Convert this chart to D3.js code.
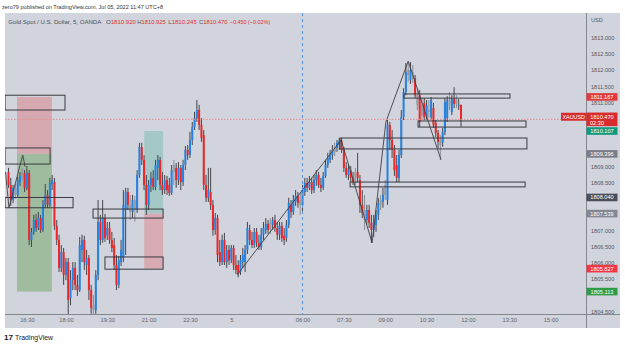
<!DOCTYPE html>
<html><head><meta charset="utf-8">
<script src="https://cdn.jsdelivr.net/npm/d3@7"></script>
<style>body{margin:0;background:#fff;}svg{display:block;font-family:"Liberation Sans",Arial,sans-serif;}</style>
</head><body><svg id="c" width="625" height="346"></svg>
<script>
// ---- data (5-min bars, index 0..197) ----
const opens = [
1808.83,1808.43,1807.96,1808.34,1808.12,1808.52,1808.65,1808.80,1808.34,1808.80,
1806.72,1806.97,1807.34,1807.09,1807.40,1807.03,1807.81,1808.12,1807.81,1808.46,
1808.52,1807.16,1806.72,1805.85,1806.34,1805.63,1806.03,1804.91,1805.47,1805.85,
1805.32,1805.16,1806.41,1806.72,1805.94,1806.16,1805.16,1804.69,1804.54,1805.63,
1807.28,1806.72,1807.40,1806.85,1807.09,1806.72,1806.56,1805.94,1805.32,1806.03,
1806.16,1807.65,1808.21,1807.81,1807.59,1807.96,1807.65,1808.74,1809.61,1809.21,
1808.43,1807.81,1808.43,1808.65,1808.37,1808.96,1809.21,1808.43,1808.27,1808.58,
1808.43,1808.18,1808.83,1808.96,1808.58,1808.96,1808.52,1809.05,1809.52,1809.36,
1809.83,1810.23,1810.51,1810.76,1810.30,1809.98,1808.43,1808.03,1808.21,1807.81,
1807.03,1807.40,1806.34,1806.03,1806.72,1806.03,1806.41,1806.09,1806.47,1805.94,
1805.94,1805.72,1806.03,1806.03,1806.41,1807.03,1806.72,1806.56,1806.97,1806.63,
1806.50,1806.88,1807.03,1807.22,1807.03,1807.19,1807.34,1807.09,1806.88,1807.16,
1806.85,1806.78,1807.19,1807.81,1807.59,1807.90,1808.09,1807.96,1807.81,1808.21,
1808.49,1808.34,1808.52,1808.27,1808.58,1808.74,1808.43,1808.34,1808.71,1809.05,
1809.21,1809.36,1809.46,1809.58,1809.67,1809.80,1809.52,1808.96,1808.74,1808.89,
1808.65,1808.52,1808.83,1808.58,1807.81,1807.65,1807.34,1807.65,1807.25,1807.03,
1807.19,1807.50,1807.81,1807.90,1808.12,1807.96,1810.30,1809.83,1809.52,1809.05,
1808.65,1809.36,1810.54,1811.32,1811.85,1811.69,1811.94,1811.75,1811.22,1811.22,
1810.60,1810.98,1810.54,1810.76,1810.54,1810.82,1810.36,1810.05,1809.83,1809.74,
1810.08,1810.51,1810.92,1810.70,1811.10,1810.95,1810.88,1810.92];
const highs = [
1808.96,1808.65,1808.43,1808.46,1808.68,1808.83,1808.96,1808.89,1809.02,1808.89,
1807.09,1807.50,1807.53,1807.59,1807.50,1807.96,1808.46,1808.27,1808.65,1808.74,
1808.65,1807.34,1806.88,1806.56,1806.47,1806.16,1806.16,1805.78,1806.03,1806.03,
1805.63,1806.81,1806.88,1806.85,1806.41,1806.25,1805.32,1805.01,1805.78,1807.96,
1807.50,1807.96,1807.53,1807.28,1807.28,1806.97,1806.78,1806.25,1806.22,1806.72,
1808.27,1808.34,1808.34,1808.12,1808.12,1808.09,1808.89,1809.74,1809.74,1809.36,
1808.74,1808.58,1808.83,1808.89,1809.21,1809.36,1809.30,1808.83,1808.74,1808.71,
1808.65,1809.05,1809.21,1809.11,1809.14,1809.05,1809.21,1809.64,1809.67,1810.08,
1810.39,1810.70,1811.07,1810.92,1810.51,1810.14,1808.74,1808.96,1808.96,1807.96,
1807.56,1807.50,1806.72,1806.88,1806.94,1806.56,1806.56,1806.56,1806.56,1806.25,
1806.09,1806.25,1806.47,1806.56,1807.28,1807.19,1806.97,1807.09,1807.09,1806.88,
1807.09,1807.28,1807.40,1807.34,1807.40,1807.43,1807.50,1807.28,1807.28,1807.28,
1807.09,1807.34,1808.03,1807.96,1808.12,1808.27,1808.21,1808.18,1808.43,1808.65,
1808.65,1808.71,1808.65,1808.74,1808.89,1808.83,1808.65,1808.83,1809.21,1809.43,
1809.52,1809.67,1809.74,1809.83,1809.89,1809.89,1809.61,1809.14,1809.05,1809.02,
1808.83,1808.96,1809.43,1808.74,1808.27,1808.12,1807.81,1807.81,1807.50,1807.50,
1807.65,1808.03,1808.12,1808.34,1808.58,1810.45,1810.39,1810.14,1809.67,1809.36,
1809.52,1810.76,1811.44,1812.22,1812.25,1812.25,1812.16,1811.85,1811.44,1811.38,
1811.13,1811.13,1811.07,1811.07,1811.16,1810.98,1810.45,1810.14,1809.98,1810.20,
1811.13,1811.19,1811.32,1811.22,1811.47,1811.22,1811.10,1810.925];
const lows = [
1808.34,1807.78,1807.87,1808.00,1808.06,1808.40,1808.58,1808.21,1808.27,1806.56,
1806.50,1806.88,1806.97,1807.03,1806.94,1806.97,1807.72,1807.72,1807.75,1808.27,
1807.03,1806.56,1805.72,1805.72,1805.32,1805.47,1804.42,1804.69,1805.16,1805.16,
1804.98,1805.10,1806.03,1805.78,1805.63,1804.85,1804.42,1804.38,1804.42,1805.47,
1806.56,1806.63,1806.66,1806.72,1806.60,1806.34,1805.78,1805.16,1805.22,1805.91,
1806.03,1806.25,1807.65,1807.34,1807.40,1807.28,1807.56,1808.65,1809.05,1808.27,
1807.50,1807.65,1808.21,1808.27,1808.27,1808.58,1808.27,1808.12,1808.15,1808.12,
1808.09,1808.12,1808.43,1808.34,1808.43,1808.27,1808.40,1808.89,1809.21,1809.27,
1809.67,1810.14,1810.39,1810.14,1809.77,1808.27,1807.90,1807.90,1807.65,1806.85,
1806.88,1806.03,1805.91,1805.94,1805.94,1805.85,1805.94,1806.00,1805.78,1805.66,
1805.56,1805.63,1805.85,1805.72,1806.28,1806.56,1806.47,1806.47,1806.50,1806.41,
1806.41,1806.72,1806.91,1806.91,1806.91,1807.03,1806.97,1806.72,1806.72,1806.66,
1806.56,1806.66,1807.09,1807.40,1807.50,1807.78,1807.72,1807.50,1807.59,1808.09,
1808.21,1808.27,1808.15,1808.18,1808.40,1808.34,1808.21,1808.27,1808.65,1808.96,
1809.11,1809.21,1809.33,1809.46,1809.52,1809.43,1808.83,1808.65,1808.58,1808.52,
1808.43,1808.43,1808.52,1807.56,1807.40,1807.03,1807.19,1807.09,1806.63,1806.81,
1806.97,1807.34,1807.65,1807.72,1807.96,1807.81,1809.52,1809.27,1808.71,1808.52,
1808.52,1809.27,1810.45,1811.22,1811.63,1811.57,1811.60,1811.13,1810.76,1810.23,
1810.45,1810.45,1810.45,1810.51,1810.45,1810.20,1809.92,1809.58,1809.21,1809.61,
1809.98,1810.39,1810.76,1810.60,1810.82,1810.82,1810.76,1810.245];
const closes = [
1808.43,1807.96,1808.34,1808.12,1808.58,1808.71,1808.83,1808.34,1808.80,1806.72,
1806.97,1807.34,1807.09,1807.40,1807.03,1807.81,1808.12,1807.81,1808.49,1808.58,
1807.16,1806.72,1805.85,1806.34,1805.63,1806.03,1804.85,1805.47,1805.85,1805.32,
1805.16,1806.56,1806.72,1806.03,1806.16,1805.16,1804.60,1804.54,1805.63,1807.28,
1806.72,1807.40,1806.78,1807.09,1806.72,1806.47,1805.94,1805.32,1806.09,1806.41,
1807.81,1808.21,1807.81,1807.59,1807.96,1807.65,1808.74,1809.61,1809.21,1808.43,
1807.81,1808.43,1808.65,1808.37,1809.05,1809.21,1808.43,1808.27,1808.58,1808.27,
1808.18,1808.89,1809.05,1808.58,1808.96,1808.52,1809.05,1809.52,1809.36,1809.83,
1810.23,1810.51,1810.76,1810.30,1809.89,1808.43,1808.03,1808.27,1807.81,1807.03,
1807.40,1806.25,1806.03,1806.72,1806.03,1806.41,1806.09,1806.47,1805.94,1805.78,
1805.66,1806.09,1806.25,1806.41,1807.09,1806.72,1806.56,1806.97,1806.63,1806.50,
1806.88,1807.09,1807.22,1807.03,1807.28,1807.34,1807.09,1806.88,1807.16,1806.78,
1806.72,1807.19,1807.87,1807.59,1807.96,1808.09,1807.87,1807.81,1808.27,1808.49,
1808.34,1808.52,1808.27,1808.58,1808.74,1808.43,1808.34,1808.71,1809.05,1809.27,
1809.36,1809.52,1809.61,1809.74,1809.80,1809.52,1808.96,1808.74,1808.89,1808.65,
1808.52,1808.83,1808.65,1807.81,1807.56,1807.34,1807.65,1807.25,1807.03,1807.28,
1807.50,1807.87,1807.96,1808.12,1808.43,1810.30,1809.83,1809.52,1808.89,1808.65,
1809.36,1810.54,1811.32,1811.94,1812.00,1812.00,1811.75,1811.22,1810.92,1810.39,
1810.92,1810.54,1810.92,1810.70,1811.07,1810.30,1810.05,1809.77,1809.67,1810.08,
1811.01,1811.07,1811.07,1811.10,1810.95,1811.07,1810.92,1810.47];
const grayBars = [3,6,37,53,55,72,114,127,142,151,155,162,164,174,176,178,180,183,188,192,195];

const timeTickIdx = [8,25,43,61,79,97,128,146,164,182,200,218,236];
const timeTickLabels = ["16:30","18:00","19:30","21:00","22:30","5","06:00","07:30","09:00","10:30","12:00","13:30","15:00"];
// price-axis labels that stay visible (the rest sit under the price tags)
const priceTicks = [1804.5,1805.5,1806,1806.5,1807,1808.5,1809,1811,1811.5,1812,1812.5,1813];

// position tools: [x0 idx, x1 idx, top, mid, bottom]
const posLeft = [3.7, 18.9, 1811.167, 1809.396, 1805.113];
const posMid  = [59.1, 67.3, 1810.107, 1807.539, 1805.827];
// rectangles
const boxX0  = [-1.5,-1.5,-1.5,36.8,42.0,148.7,144.3,172.2,178.3];
const boxX1  = [24.6,18.1,28.1,67.3,67.3,224.9,225.7,218.3,225.3];
const boxTop = [1811.22,1809.58,1808.04,1807.68,1806.19,1808.52,1809.89,1811.26,1810.42];
const boxBot = [1810.76,1809.08,1807.72,1807.40,1805.81,1808.37,1809.55,1811.13,1810.23];
// zigzag drawings
const zz1Idx = [-1.3,0.2,6.2,7.2];
const zz1Px  = [1808.83,1807.72,1809.36,1809.00];
const zz2Idx = [99.5,144.8,158.3,164.3,174.0,188.3];
const zz2Px  = [1805.63,1809.83,1806.63,1810.39,1812.28,1809.21];
// right-axis labels
const tagPrices = [1811.167,1810.107,1809.396,1808.040,1807.539,1805.827,1805.113];
const tagColors = ["#df3a3c","#0f9a7e","#7b7e87","#4c4f58","#858891","#f23645","#2f9b47"];
const lastPrice = 1810.470, countdown = "02:30", sessionIdx = 128;

// ---- drawing ----
const svg = d3.select("#c");
svg.append("rect").attr("x",5).attr("y",13).attr("width",615).attr("height",315).attr("fill","#d1d4dc");

const x = d3.scaleLinear().domain([0,236]).range([8.5,550.6]);
const y = d3.scaleLinear().domain([1804.5,1813]).range([311.3,38]);

svg.append("defs").append("clipPath").attr("id","pc").append("rect")
  .attr("x",5).attr("y",13).attr("width",581.5).attr("height",301);
const g = svg.append("g").attr("clip-path","url(#pc)");

function posZone(p, cTop, cBot){
  g.append("rect").attr("x",x(p[0])).attr("width",x(p[1])-x(p[0]))
    .attr("y",y(p[2])).attr("height",y(p[3])-y(p[2])).attr("fill",cTop);
  g.append("rect").attr("x",x(p[0])).attr("width",x(p[1])-x(p[0]))
    .attr("y",y(p[3])).attr("height",y(p[4])-y(p[3])).attr("fill",cBot);
}
posZone(posLeft,"#d6a9b1","#9fbc9f");
posZone(posMid,"#a3c8c5","#d7aab4");

const bars = d3.range(closes.length).map(i=>({i,o:opens[i],h:highs[i],l:lows[i],c:closes[i],gray:grayBars.includes(i)}));
const cg = g.append("g");
cg.selectAll("line.w").data(bars).join("line")
  .attr("x1",d=>x(d.i)).attr("x2",d=>x(d.i)).attr("y1",d=>y(d.h)).attr("y2",d=>y(d.l))
  .attr("stroke",d=>d.gray?"#8a8d95":"#45454b").attr("stroke-width",1);
cg.selectAll("rect.b").data(bars).join("rect")
  .attr("x",d=>x(d.i)-1).attr("width",2)
  .attr("y",d=>y(Math.max(d.o,d.c)))
  .attr("height",d=>Math.max(0.9,Math.abs(y(d.o)-y(d.c))))
  .attr("fill",d=>d.gray?"#989aa1":(d.c>=d.o?"#2382e2":"#ec2629"));

d3.range(boxX0.length).forEach(k=>{
  g.append("rect").attr("x",x(boxX0[k])).attr("width",x(boxX1[k])-x(boxX0[k]))
    .attr("y",y(boxTop[k])).attr("height",y(boxBot[k])-y(boxTop[k]))
    .attr("fill","none").attr("stroke","#3a3a3f").attr("stroke-width",1);
});

const line = d3.line().x(d=>x(d[0])).y(d=>y(d[1]));
g.append("path").attr("d",line(d3.zip(zz1Idx,zz1Px))).attr("fill","none").attr("stroke","#3f3f45").attr("stroke-width",0.9);
g.append("path").attr("d",line(d3.zip(zz2Idx,zz2Px))).attr("fill","none").attr("stroke","#3f3f45").attr("stroke-width",0.9);

g.append("line").attr("x1",x(sessionIdx)).attr("x2",x(sessionIdx)).attr("y1",13).attr("y2",314)
  .attr("stroke","#5b93dc").attr("stroke-dasharray","3,3").attr("stroke-width",1);
g.append("line").attr("x1",5).attr("x2",561).attr("y1",y(lastPrice)).attr("y2",y(lastPrice))
  .attr("stroke","#e58b8f").attr("stroke-dasharray","1.5,1.5").attr("stroke-width",1);

svg.append("line").attr("x1",586.5).attr("x2",586.5).attr("y1",13).attr("y2",328).attr("stroke","#85878f").attr("stroke-width",1);
svg.append("line").attr("x1",5).attr("x2",620).attr("y1",314.5).attr("y2",314.5).attr("stroke","#85878f").attr("stroke-width",1);

const ya = d3.axisRight(y).tickValues(priceTicks).tickSize(0).tickPadding(0).tickFormat(d3.format(".3f"));
const yg = svg.append("g").attr("transform","translate(591,0)").call(ya);
yg.select(".domain").remove();
yg.selectAll("text").attr("font-size",5.6).attr("fill","#55585f").attr("font-family","Liberation Sans, Arial, sans-serif");
svg.append("text").attr("x",591).attr("y",22).attr("font-size",5.6).attr("fill","#55585f").text("USD");

const xa = d3.axisBottom(x).tickValues(timeTickIdx).tickSize(0).tickPadding(0)
  .tickFormat((d,i)=>timeTickLabels[i]);
const xg = svg.append("g").attr("transform","translate(0,318)").call(xa);
xg.select(".domain").remove();
xg.selectAll("text").attr("font-size",5.8).attr("fill","#60636b").attr("font-family","Liberation Sans, Arial, sans-serif");

d3.range(tagPrices.length).forEach(k=>{
  const yy = y(tagPrices[k]);
  svg.append("rect").attr("x",586.5).attr("y",yy-3.8).attr("width",31).attr("height",7.6).attr("fill",tagColors[k]);
  svg.append("text").attr("x",602).attr("y",yy).attr("dy","0.35em").attr("text-anchor","middle")
    .attr("font-size",5.6).attr("fill","#fff").text(tagPrices[k].toFixed(3));
});
const ly = y(lastPrice);
svg.append("rect").attr("x",586.5).attr("y",ly-6.8).attr("width",31).attr("height",13.6).attr("fill","#d82d2f");
svg.append("text").attr("x",602).attr("y",ly-2.6).attr("dy","0.35em").attr("text-anchor","middle").attr("font-size",5.6).attr("fill","#fff").text(lastPrice.toFixed(3));
svg.append("text").attr("x",590).attr("y",ly+3.4).attr("dy","0.35em").attr("font-size",5.6).attr("fill","#fff").text(countdown);
svg.append("rect").attr("x",561).attr("y",ly-6.6).attr("width",25.5).attr("height",8).attr("fill","#d82d2f");
svg.append("text").attr("x",573.7).attr("y",ly-2.6).attr("dy","0.35em").attr("text-anchor","middle").attr("font-size",5.4).attr("fill","#fff").text("XAUUSD");

svg.append("text").attr("x",2).attr("y",8.5).attr("font-size",6).attr("fill","#333")
  .attr("textLength",161).attr("lengthAdjust","spacingAndGlyphs")
  .text("zero79 published on TradingView.com, Jul 05, 2022 11:47 UTC+8");
svg.append("text").attr("x",8.3).attr("y",23.5).attr("font-size",6).attr("fill","#4d5059")
  .attr("textLength",93).attr("lengthAdjust","spacingAndGlyphs").text("Gold Spot / U.S. Dollar, 5, OANDA");
const legendParts = [["O","1810.920",106,30],["H","1810.925",137.3,28.5],["L","1810.245",168.3,28.5],["C","1810.470",199,28.5]];
legendParts.forEach(p=>{
  const t = svg.append("text").attr("x",p[2]).attr("y",23.5).attr("font-size",6)
    .attr("textLength",p[3]).attr("lengthAdjust","spacingAndGlyphs");
  t.append("tspan").attr("fill","#4d5059").text(p[0]);
  t.append("tspan").attr("fill","#e0302f").text(p[1]);
});
svg.append("text").attr("x",230).attr("y",23.5).attr("font-size",6).attr("fill","#e0302f")
  .attr("textLength",40).attr("lengthAdjust","spacingAndGlyphs").text("\u22120.450 (\u22120.02%)");

svg.append("text").attr("x",4).attr("y",340).attr("font-size",8).attr("font-weight","bold").attr("fill","#131722")
  .attr("textLength",9).attr("lengthAdjust","spacingAndGlyphs").text("17");
svg.append("text").attr("x",15).attr("y",339.5).attr("font-size",6.4).attr("fill","#131722")
  .attr("textLength",38).attr("lengthAdjust","spacingAndGlyphs").text("TradingView");
</script></body></html>
